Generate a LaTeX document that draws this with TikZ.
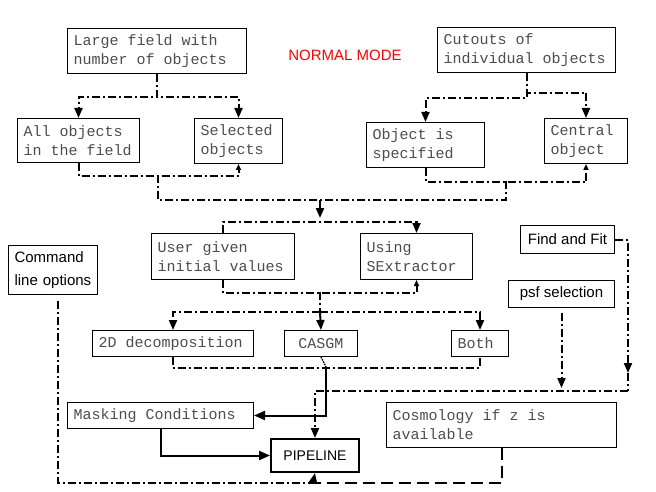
\documentclass[tikz,border=0pt]{standalone}
\usepackage{fontspec}
\newfontfamily\courierfont{Liberation Mono}
\newfontfamily\helvfont{Liberation Sans}
\usetikzlibrary{arrows.meta, positioning}

\begin{document}
\begin{tikzpicture}[x=1pt, y=-1pt, frame/.style={
        rectangle,
        draw=black,
        line width=1pt,
        anchor=north west,
        inner xsep=6pt,
        inner ysep=0pt
    }, box/.style={
        frame,
        align=left,
        text=black!70,
        font=\courierfont\fontsize{15}{19}\selectfont,
        execute at begin node={\spaceskip=0.6em\relax}
    }, sbox/.style={
        frame,
        align=center,
        text=black,
        font=\helvfont\fontsize{15}{23}\selectfont
    }, flow/.style={
        line width=2pt, dash pattern=on 8pt off 3pt on 2pt off 3pt
    }, arrow/.style={
        flow, -{Triangle[length=10pt,width=8pt]}
    }, uparrow/.style={
        flow, -{Triangle[length=6pt,width=5pt]}
    }, solidarrow/.style={
        line width=2pt, -{Triangle[length=11pt,width=9pt]}
    }, longdash/.style={
        line width=2pt, dash pattern=on 12pt off 6pt
    }]
    \useasboundingbox (0,0) rectangle (656,492);

    \node (mode) at (345,55) [text=red, font=\helvfont\fontsize{15}{18}\selectfont] {NORMAL MODE};
    \node (large) at (67,28) [box, text width=167pt, minimum height=45pt] {Large field with\\number of objects};
    \node (cutouts) at (437,27) [box, text width=166pt, minimum height=45pt] {Cutouts of\\individual objects};
    \node (allobj) at (17,118) [box, text width=110pt, minimum height=44pt] {All objects\\in the field};
    \node (selobj) at (194,118) [box, text width=76pt, minimum height=45pt] {Selected\\objects};
    \node (objspec) at (366,122) [box, text width=106pt, minimum height=45pt] {Object is\\specified};
    \node (central) at (544,118) [box, text width=71pt, minimum height=45pt] {Central\\object};
    \node (user) at (151,233) [box, text width=131pt, minimum height=46pt] {User given\\initial values};
    \node (sextr) at (360,233) [box, text width=100pt, minimum height=46pt] {Using\\SExtractor};
    \node (cmdline) at (8,245) [sbox, align=left, text width=77pt, minimum height=49pt] {Command\\line options};
    \node (findfit) at (520,225) [sbox, minimum width=94pt, minimum height=28pt] {Find and Fit};
    \node (psfsel) at (508,280) [sbox, minimum width=106pt, minimum height=27pt] {psf selection};
    \node (twod) at (92,330) [box, text width=149pt, minimum height=26pt] {2D decomposition};
    \node (casgm) at (284,330) [box, align=center, minimum width=73pt, minimum height=26pt] {CASGM};
    \node (both) at (451,330) [box, text width=45pt, minimum height=26pt] {Both};
    \node (masking) at (67,402) [box, text width=174pt, minimum height=26pt] {Masking Conditions};
    \node (cosmo) at (386,402) [box, text width=218pt, minimum height=45pt] {Cosmology if z is\\available};
    \node (pipeline) at (270,438) [sbox, line width=2pt, minimum width=88pt, minimum height=33pt, font=\helvfont\fontsize{14}{16}\selectfont] {PIPELINE};

    \coordinate (lbus) at (158,175);
    \coordinate (rbus) at (506,181);
    \coordinate (merge) at (320,200);
    \coordinate (split) at (320,292);
    \coordinate (fork) at (320,312);
    \coordinate (cbend) at (326,367);
    \coordinate (pbus) at (628,391);
    \coordinate (bbus) at (313,483);

    \draw [arrow] (large.south) -- ++(0,23) -| (allobj.north);
    \draw [arrow] (large.south) -- ++(0,23) -| (selobj.north);
    \draw [uparrow] (allobj.south) -- ++(0,13) -| (selobj.south);
    \draw [arrow] (cutouts.south) -- ++(0,25) -| (objspec.north);
    \draw [arrow] (cutouts.south) -- ++(0,20) -| (central.north);
    \draw [uparrow] (objspec.south) -- ++(0,14) -| (central.south);
    \draw [flow] (lbus) |- (merge);
    \draw [flow] (rbus) |- (merge);
    \draw [arrow] (merge) -- ++(0,18);
    \draw [arrow] (user.north) -- ++(0,-11) -| (sextr.north);
    \draw [uparrow] (user.south) -- ++(0,13) -| (sextr.south);
    \draw [flow] (split) -- (fork);
    \draw [arrow] (fork) -| (twod.north);
    \draw [arrow] (fork) -- (casgm.north);
    \draw [arrow] (fork) -| (both.north);
    \draw [flow] (twod.south) -- ++(0,11) -| (both.south);
    \draw [line width=1.5pt, densely dotted] (casgm.south) -- (cbend);
    \draw [solidarrow] (cbend) |- (masking.east);
    \draw [solidarrow] (masking.south) |- (pipeline.west);
    \draw [arrow] (findfit.east) -| ([yshift=18pt]pbus);
    \draw [flow] ([yshift=18pt]pbus) -- (pbus);
    \draw [arrow, shorten >=3pt] ([yshift=-5pt]psfsel.south) -- (psfsel.south |- pbus);
    \draw [arrow] (pbus) -| (pipeline.north);
    \draw [flow] ([xshift=5pt, yshift=-6pt]cmdline.south) |- (bbus);
    \draw [longdash] (cosmo.south) |- (bbus);
    \draw [arrow] (bbus) -- (pipeline.south);

\end{tikzpicture}
\end{document}
